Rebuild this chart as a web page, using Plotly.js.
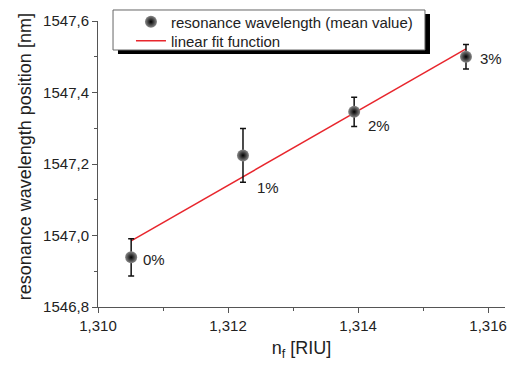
<!DOCTYPE html>
<html><head><meta charset="utf-8">
<script src="https://cdn.plot.ly/plotly-3.0.1.min.js"></script>
<style>body{margin:0;background:#fff}#c{width:521px;height:365px}</style>
</head><body><div id="c"></div>
<script>
const nf = [1.31051, 1.31223, 1.31394, 1.31566];
const wavelength = [1546.939, 1547.224, 1547.346, 1547.500];
const errors = [0.052, 0.075, 0.041, 0.034];
const labels = ['0%', '1%', '2%', '3%'];
const fitX = [1.31051, 1.31566];
const fitY = [1546.985, 1547.522];
const xTitle = 'n<sub>f</sub> [RIU]';
const yTitle = 'resonance wavelength position [nm]';

const labelShift = [[10, -2], [12, -32], [12, -14], [12, -2]];
const FONT = 'Liberation Sans, Arial, sans-serif';

const traces = [
  {x: fitX, y: fitY, mode: 'lines', name: 'linear fit function', legend: 'legend2',
   line: {color: '#e8262d', width: 1.5}},
  {x: nf, y: wavelength, mode: 'markers', name: 'resonance wavelength (mean value)', legend: 'legend',
   marker: {size: 12, color: '#8a8a8a', gradient: {type: 'radial', color: '#000000'}, line: {width: 0}},
   error_y: {type: 'data', array: errors, visible: true, color: '#111', thickness: 1.5, width: 3}}
];

const annotations = labels.map((t, i) => ({
  x: nf[i], y: wavelength[i], xref: 'x', yref: 'y', text: t, showarrow: false,
  xanchor: 'left', yanchor: 'middle', xshift: labelShift[i][0], yshift: labelShift[i][1],
  font: {family: FONT, size: 15, color: '#222'}
}));
annotations.push({xref: 'paper', yref: 'paper', x: -0.179, y: 0.524, xanchor: 'center', yanchor: 'middle',
  text: yTitle, textangle: -90, showarrow: false, font: {family: FONT, size: 18, color: '#222'}});

const legendBase = {xanchor: 'left', yanchor: 'middle', bgcolor: 'rgba(0,0,0,0)', borderwidth: 0,
                    font: {family: FONT, size: 15, color: '#222'}};

const layout = {
  width: 521, height: 365,
  margin: {l: 98, r: 16, t: 21, b: 58, autoexpand: false},
  separators: ',.',
  paper_bgcolor: '#fff', plot_bgcolor: '#fff',
  font: {family: FONT, color: '#222', size: 15},
  showlegend: true,
  legend: Object.assign({x: 0.081, y: 0.9965}, legendBase),
  legend2: Object.assign({x: 0.081, y: 0.9301}, legendBase),
  xaxis: {range: [1.310, 1.31626], dtick: 0.002, tick0: 1.310, tickformat: '.3f',
          showgrid: false, zeroline: false, showline: true, linecolor: '#555', linewidth: 1,
          ticks: 'outside', ticklen: 5, tickcolor: '#555',
          minor: {dtick: 0.001, ticks: 'outside', ticklen: 3, tickcolor: '#555', showgrid: false},
          title: {text: xTitle, font: {size: 18, color: '#222'}, standoff: 8}},
  yaxis: {range: [1546.8, 1547.6], dtick: 0.2, tick0: 1546.8, tickformat: '.1f',
          showgrid: false, zeroline: false, showline: true, linecolor: '#555', linewidth: 1,
          ticks: 'outside', ticklen: 5, tickcolor: '#555',
          minor: {dtick: 0.1, ticks: 'outside', ticklen: 3, tickcolor: '#555', showgrid: false}},
  shapes: [
    {type: 'rect', xref: 'paper', yref: 'paper', layer: 'above',
     x0: 0.0491, x1: 0.8157, y0: 0.8846, y1: 1.0245, fillcolor: '#000', line: {width: 0}},
    {type: 'rect', xref: 'paper', yref: 'paper', layer: 'above',
     x0: 0.0369, x1: 0.8034, y0: 0.8986, y1: 1.0385, fillcolor: '#fff', line: {width: 1, color: '#666'}}
  ],
  annotations: annotations
};

Plotly.newPlot('c', traces, layout, {displayModeBar: false, staticPlot: true});
</script></body></html>
